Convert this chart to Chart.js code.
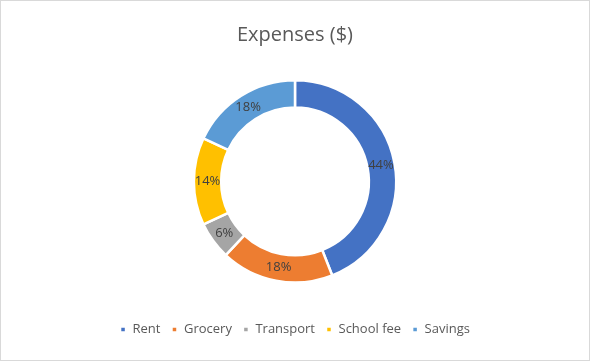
<!DOCTYPE html>
<html>
<head>
    <title>Expenses</title>
    <style>
        html, body { margin: 0; padding: 0; background: #fff; }
        #wrap { width: 588px; height: 359px; border: 1px solid #d9d9d9; }
    </style>
</head>
<body>
    <div id="wrap">
        <canvas id="myChart" width="588" height="359"></canvas>
    </div>

    <script src="https://cdn.jsdelivr.net/npm/chart.js"></script>

    <script>
        const labels = ['Rent', 'Grocery', 'Transport', 'School fee', 'Savings']
        const shares = [44, 18, 6, 14, 18] // percent of total
        const colors = ['#4472C4', '#ED7D31', '#A5A5A5', '#FFC000', '#5B9BD5']

        // draw the % text in the middle of each ring segment
        const pctLabels = {
            id: 'pctLabels',
            afterDatasetsDraw(chart) {
                const ctx = chart.ctx
                const meta = chart.getDatasetMeta(0)
                ctx.save()
                ctx.font = '13px "Open Sans", sans-serif'
                ctx.fillStyle = '#404040'
                ctx.textAlign = 'center'
                ctx.textBaseline = 'middle'
                meta.data.forEach((arc, i) => {
                    const p = arc.tooltipPosition()
                    ctx.fillText(shares[i] + '%', p.x, p.y)
                })
                ctx.restore()
            }
        }

        const ctx = document.getElementById('myChart')
        new Chart(ctx, {
            type: 'doughnut',
            data: {
                labels: labels,
                datasets: [{
                    data: shares,
                    backgroundColor: colors,
                    borderColor: '#ffffff',
                    borderWidth: 2.5
                }]
            },
            plugins: [pctLabels],
            options: {
                responsive: false,
                animation: false,
                cutout: '73%',
                layout: { padding: { top: 0, bottom: 14 } },
                plugins: {
                    tooltip: { enabled: false },
                    title: {
                        display: true,
                        text: 'Expenses ($)',
                        color: '#595959',
                        font: { family: '"Open Sans", sans-serif', size: 20, weight: 'normal' },
                        padding: { top: 22, bottom: 32 }
                    },
                    legend: {
                        position: 'bottom',
                        // empty legend title used as a spacer above the items
                        title: { display: true, text: ' ', font: { size: 1 }, padding: { top: 0, bottom: 27 } },
                        labels: {
                            color: '#595959',
                            font: { family: '"Open Sans", sans-serif', size: 13 },
                            boxWidth: 6,
                            boxHeight: 6,
                            padding: 11
                        }
                    }
                }
            }
        })
    </script>
</body>
</html>
